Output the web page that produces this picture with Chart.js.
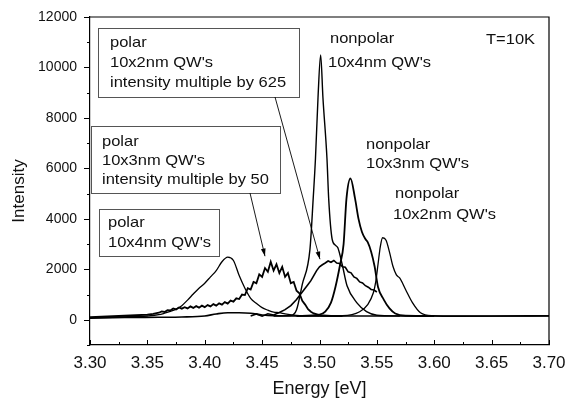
<!DOCTYPE html>
<html>
<head>
<meta charset="utf-8">
<script src="https://cdn.jsdelivr.net/npm/chart.js@4.4.1/dist/chart.umd.min.js"></script>
<style>
  html, body { margin: 0; padding: 0; background: #fff; }
  #myChart { display: block; }
</style>
</head>
<body>
<canvas id="myChart" width="568" height="400"></canvas>
<script>
// axis ticks
const xTickValues = [3.30, 3.35, 3.40, 3.45, 3.50, 3.55, 3.60, 3.65, 3.70];
const yTickValues = [0, 2000, 4000, 6000, 8000, 10000, 12000];

// lowest trace (flat background)
const baseE = [3.30, 3.33, 3.36, 3.38, 3.40, 3.41, 3.42, 3.43, 3.44, 3.45, 3.46, 3.50, 3.55, 3.60, 3.65, 3.70];
const baseI = [60, 90, 100, 110, 150, 230, 280, 280, 260, 190, 160, 150, 150, 150, 150, 160];

// polar 10x4nm (smooth peak at 3.42)
const polar4E = [3.30, 3.32, 3.34, 3.35, 3.36, 3.365, 3.37, 3.375, 3.38, 3.385, 3.39, 3.395, 3.40, 3.405, 3.41,
  3.415, 3.42, 3.425, 3.43, 3.435, 3.44, 3.445, 3.45, 3.455, 3.46, 3.465, 3.47, 3.48, 3.50];
const polar4I = [80, 100, 130, 150, 200, 260, 330, 420, 560, 780, 1020, 1250, 1450, 1700, 1950,
  2300, 2480, 2350, 1750, 1250, 850, 650, 480, 380, 300, 280, 230, 170, 150];

// polar 10x3nm, x50 (noisy)
const polar3E = [3.300, 3.310, 3.320, 3.330, 3.340, 3.350, 3.355, 3.360,
  3.3625, 3.365, 3.3675, 3.370, 3.3725, 3.375, 3.3775, 3.380, 3.3825, 3.385,
  3.3875, 3.390, 3.3925, 3.395, 3.3975, 3.400, 3.4025, 3.405, 3.4075, 3.410,
  3.4125, 3.415, 3.4175, 3.420, 3.4225, 3.425, 3.4275, 3.430, 3.4325, 3.435,
  3.4375, 3.440, 3.4425, 3.445, 3.4475, 3.450, 3.4525, 3.455, 3.4575, 3.460,
  3.4625, 3.465, 3.4675, 3.470, 3.4725, 3.475, 3.4775, 3.480, 3.4825, 3.485,
  3.4875, 3.490, 3.4925, 3.495, 3.500, 3.510, 3.520];
const polar3I = [100, 120, 140, 160, 180, 200, 230, 280,
  330, 310, 380, 370, 450, 410, 490, 440, 500, 450,
  530, 470, 540, 480, 560, 500, 580, 530, 620, 560,
  650, 600, 700, 640, 760, 720, 850, 820, 1000, 980,
  1250, 1200, 1500, 1450, 1800, 1700, 2050, 1900, 2300, 1950,
  2200, 1850, 2100, 1700, 1850, 1450, 1500, 1150, 1050, 750,
  600, 420, 320, 250, 180, 150, 150];

// polar 10x2nm, x625
const polar2E = [3.440, 3.445, 3.450, 3.455, 3.460, 3.465, 3.470, 3.475, 3.480,
  3.4825, 3.485, 3.4875, 3.490, 3.4925, 3.495, 3.4975, 3.500, 3.5025, 3.505,
  3.5075, 3.510, 3.5125, 3.515, 3.5175, 3.520, 3.5225, 3.525, 3.5275, 3.530,
  3.5325, 3.535, 3.5375, 3.540, 3.5425, 3.545, 3.5475, 3.550];
const polar2I = [150, 230, 140, 240, 190, 290, 400, 560, 800,
  950, 1100, 1250, 1400, 1550, 1750, 1950, 2100, 2180, 2250,
  2330, 2280, 2350, 2250, 2230, 2100, 2080, 1900, 1860, 1700,
  1640, 1500, 1460, 1350, 1290, 1200, 1180, 1100];

// nonpolar 10x4nm
const nonpolar4E = [3.46, 3.475, 3.480, 3.485, 3.4917, 3.4945, 3.4965, 3.4987, 3.501, 3.503, 3.5065,
  3.508, 3.511, 3.514, 3.516, 3.520, 3.524, 3.533, 3.541, 3.550, 3.570];
const nonpolar4I = [150, 170, 400, 1400, 2800, 4800, 6400, 8800, 10500, 8800, 6400,
  4800, 3200, 2950, 2850, 2150, 1350, 650, 320, 180, 150];

// nonpolar 10x3nm
const nonpolar3E = [3.48, 3.50, 3.505, 3.51, 3.514, 3.518, 3.521, 3.5235, 3.527, 3.531, 3.534,
  3.537, 3.540, 3.542, 3.545, 3.548, 3.551, 3.556, 3.561, 3.566, 3.575, 3.60];
const nonpolar3I = [150, 200, 320, 680, 1320, 2200, 3000, 4800, 5600, 4800, 4000,
  3480, 3200, 3080, 2700, 2120, 1300, 800, 450, 250, 160, 150];

// nonpolar 10x2nm
const nonpolar2E = [3.50, 3.52, 3.535, 3.542, 3.547, 3.549, 3.551, 3.553, 3.555, 3.558, 3.561,
  3.564, 3.567, 3.570, 3.575, 3.581, 3.588, 3.599, 3.62, 3.70];
const nonpolar2I = [150, 160, 320, 600, 1080, 1500, 2200, 2900, 3250, 3150, 2680,
  2120, 1780, 1650, 1200, 680, 280, 160, 140, 150];

// labels
const boxLabels = [
  ["polar", "10x2nm QW's", "intensity multiple by 625"],
  ["polar", "10x3nm QW's", "intensity multiple by 50"],
  ["polar", "10x4nm QW's"]
];
const freeLabels = ["nonpolar", "10x4nm QW's", "T=10K", "nonpolar", "10x3nm QW's", "nonpolar", "10x2nm QW's"];
const arrowTips = [[3.5004, 2400], [3.4525, 2520]];

const FONT = "'Liberation Sans', Arial, sans-serif";
const INK = '#111';

function pts(xs, ys) {
  return xs.map((x, i) => ({ x: x, y: ys[i] }));
}

function line(xs, ys, width, smooth) {
  return {
    data: pts(xs, ys),
    borderColor: '#000',
    borderWidth: width,
    pointRadius: 0,
    fill: false,
    tension: 0,
    cubicInterpolationMode: smooth ? 'monotone' : 'default'
  };
}

// boxes, arrows, free text, minor ticks, frame
const decorations = {
  id: 'decorations',
  afterDraw(chart) {
    const ctx = chart.ctx;
    const xs = chart.scales.x;
    const ys = chart.scales.y;
    const a = chart.chartArea;
    ctx.save();

    // frame top/right
    ctx.strokeStyle = '#000';
    ctx.lineWidth = 1.2;
    ctx.beginPath();
    ctx.moveTo(a.left, a.top);
    ctx.lineTo(a.right, a.top);
    ctx.lineTo(a.right, a.bottom);
    ctx.stroke();

    // y ticks (outward)
    ctx.lineWidth = 1;
    for (let v = -1000; v <= 12000; v += 1000) {
      const py = Math.round(ys.getPixelForValue(v)) + 0.5;
      const len = (v % 2000 === 0) ? 6 : 3;
      ctx.beginPath();
      ctx.moveTo(a.left - len, py);
      ctx.lineTo(a.left, py);
      ctx.stroke();
    }
    // x ticks (inward)
    for (let k = 0; k <= 16; k++) {
      const v = 3.30 + k * 0.025;
      const px = Math.round(xs.getPixelForValue(v)) + 0.5;
      const len = (k % 2 === 0) ? 5 : 3;
      ctx.beginPath();
      ctx.moveTo(px, a.bottom);
      ctx.lineTo(px, a.bottom - len);
      ctx.stroke();
    }

    ctx.fillStyle = INK;
    ctx.font = '15px ' + FONT;
    ctx.textBaseline = 'middle';
    ctx.textAlign = 'left';
    function text(t, x, y) {
      ctx.save();
      ctx.translate(x, y);
      ctx.scale(1.1, 1);
      ctx.fillText(t, 0, 0);
      ctx.restore();
    }

    // boxes
    const boxes = [
      { r: [98, 28, 299, 97], tx: 110, ty: [43, 63, 83] },
      { r: [91, 126, 280, 193], tx: 102, ty: [142, 161, 180] },
      { r: [99, 209, 219, 256], tx: 108, ty: [223, 243] }
    ];
    boxes.forEach((b, i) => {
      ctx.fillStyle = '#fff';
      ctx.fillRect(b.r[0], b.r[1], b.r[2] - b.r[0], b.r[3] - b.r[1]);
      ctx.strokeStyle = '#555';
      ctx.lineWidth = 1;
      ctx.strokeRect(b.r[0] + 0.5, b.r[1] + 0.5, b.r[2] - b.r[0], b.r[3] - b.r[1]);
      ctx.fillStyle = INK;
      boxLabels[i].forEach((t, j) => text(t, b.tx, b.ty[j]));
    });

    // free labels
    const freePos = [[330, 39], [328, 63], [486, 40], [366, 145], [366, 164], [395, 194], [393, 215]];
    freeLabels.forEach((t, i) => text(t, freePos[i][0], freePos[i][1]));

    // arrows
    const arrowStarts = [[275, 97], [250, 193]];
    ctx.strokeStyle = '#000';
    ctx.fillStyle = '#000';
    ctx.lineWidth = 0.9;
    arrowTips.forEach((tip, i) => {
      const x0 = arrowStarts[i][0], y0 = arrowStarts[i][1];
      const x1 = xs.getPixelForValue(tip[0]);
      const y1 = ys.getPixelForValue(tip[1]);
      const ang = Math.atan2(y1 - y0, x1 - x0);
      ctx.beginPath();
      ctx.moveTo(x0, y0);
      ctx.lineTo(x1, y1);
      ctx.stroke();
      ctx.beginPath();
      ctx.moveTo(x1, y1);
      ctx.lineTo(x1 - 8 * Math.cos(ang - 0.3), y1 - 8 * Math.sin(ang - 0.3));
      ctx.lineTo(x1 - 8 * Math.cos(ang + 0.3), y1 - 8 * Math.sin(ang + 0.3));
      ctx.closePath();
      ctx.fill();
    });

    // y title
    ctx.save();
    ctx.translate(19, 191);
    ctx.rotate(-Math.PI / 2);
    ctx.textAlign = 'center';
    ctx.font = '17px ' + FONT;
    ctx.fillStyle = INK;
    ctx.fillText('Intensity', 0, 0);
    ctx.restore();

    ctx.restore();
  }
};

const ctx = document.getElementById('myChart').getContext('2d');
window.myChart = new Chart(ctx, {
  type: 'line',
  data: {
    datasets: [
      line(baseE, baseI, 1.6, true),
      line(polar4E, polar4I, 1.3, true),
      line(polar3E, polar3I, 1.8, false),
      line(polar2E, polar2I, 1.6, false),
      line(nonpolar4E, nonpolar4I, 1.4, true),
      line(nonpolar3E, nonpolar3I, 1.8, true),
      line(nonpolar2E, nonpolar2I, 1.3, true)
    ]
  },
  options: {
    responsive: false,
    animation: false,
    devicePixelRatio: 1,
    layout: { padding: { top: 17, right: 19, left: 0, bottom: 0 } },
    plugins: {
      legend: { display: false },
      tooltip: { enabled: false }
    },
    scales: {
      x: {
        type: 'linear',
        min: 3.30,
        max: 3.70,
        afterBuildTicks: s => { s.ticks = xTickValues.map(v => ({ value: v })); },
        afterFit: s => {
          s.height = 55;
          s.paddingLeft = 0;
          s.paddingRight = 0;
        },
        grid: { display: false, drawTicks: false },
        border: { display: true, color: '#000', width: 1.2 },
        ticks: {
          color: INK,
          padding: 8,
          maxRotation: 0,
          autoSkip: false,
          font: { family: FONT, size: 17 },
          callback: v => Number(v).toFixed(2)
        },
        title: {
          display: true,
          text: 'Energy [eV]',
          color: INK,
          font: { family: FONT, size: 18 },
          padding: { top: 0, bottom: 0 }
        }
      },
      y: {
        type: 'linear',
        min: -1000,
        max: 12000,
        afterBuildTicks: s => { s.ticks = yTickValues.map(v => ({ value: v })); },
        afterFit: s => {
          s.width = 90;
          s.paddingTop = 0;
          s.paddingBottom = 0;
        },
        grid: { display: false, drawTicks: false },
        border: { display: true, color: '#000', width: 1.2 },
        ticks: {
          color: INK,
          padding: 13,
          font: { family: FONT, size: 14 },
          callback: v => String(v)
        }
      }
    }
  },
  plugins: [decorations]
});
</script>
</body>
</html>
